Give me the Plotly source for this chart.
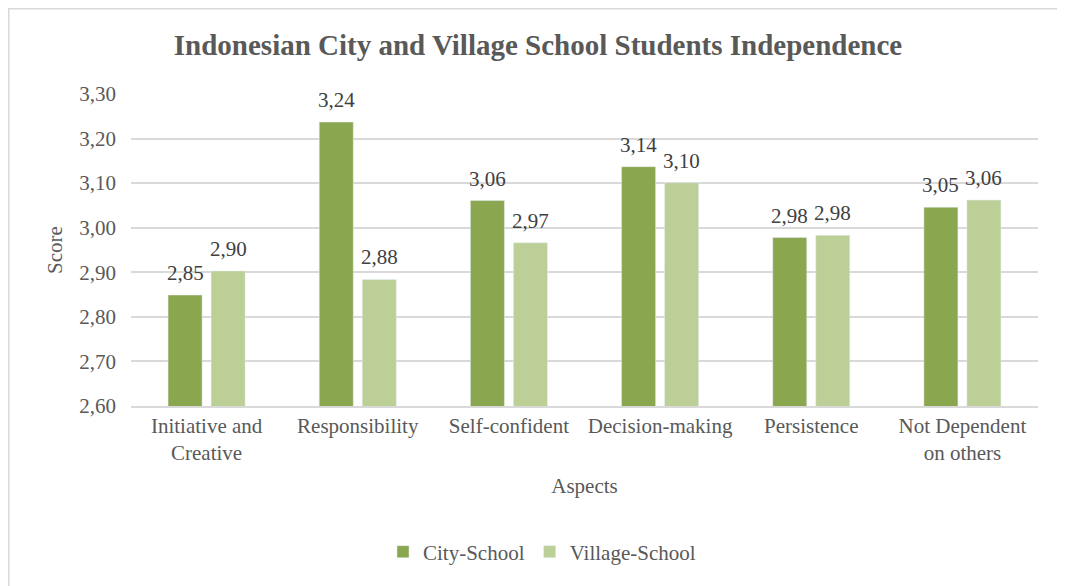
import plotly.graph_objects as go

categories = ["Initiative and<br>Creative", "Responsibility", "Self-confident",
              "Decision-making", "Persistence", "Not Dependent<br>on others"]
city_school = [2.849, 3.237, 3.061, 3.137, 2.978, 3.046]
village_school = [2.903, 2.884, 2.966, 3.101, 2.983, 3.062]
y_ticks = [2.6, 2.7, 2.8, 2.9, 3.0, 3.1, 3.2, 3.3]

FONT = "Liberation Serif"
W, H = 1057, 578
OFF = 8  # page body offset
BARGAP, GROUPGAP = 0.431, 0.209

fig = go.Figure()
fig.add_trace(go.Bar(name="City-School", x=categories, y=city_school,
                     marker=dict(color="#8AA64F")))
fig.add_trace(go.Bar(name="Village-School", x=categories, y=village_school,
                     marker=dict(color="#BBCF96")))

# data labels placed above each bar
pw = 1038 - 131
ph = 406 - 94
slot = pw / len(categories) * (1 - BARGAP) / 2
for series, sign in ((city_school, -1), (village_school, 1)):
    for cat, val in zip(categories, series):
        fig.add_annotation(x=cat, y=val, text=f"{val:.2f}".replace(".", ","),
                           showarrow=False, yanchor="bottom", xanchor="center",
                           xshift=sign * slot / 2, yshift=8,
                           font=dict(family=FONT, size=21, color="#404040"))

fig.update_layout(
    width=W, height=H,
    margin=dict(l=131-OFF, r=W-(1038-OFF), t=94-OFF, b=H-(406-OFF), autoexpand=False),
    paper_bgcolor="white", plot_bgcolor="white",
    separators=",.",
    barmode="group", bargap=BARGAP, bargroupgap=GROUPGAP,
    font=dict(family=FONT, size=21, color="#595959"),
    title=dict(text="<b>Indonesian City and Village School Students Independence</b>",
               x=(538-OFF)/W, xref="container", xanchor="center",
               y=1-(45-OFF)/H, yref="container", yanchor="middle",
               font=dict(family=FONT, size=29, color="#595959")),
    xaxis=dict(title=dict(text="Aspects", standoff=14, font=dict(size=21, color="#595959")),
               showline=True, linecolor="#d9d9d9", linewidth=1.5,
               ticks="", tickfont=dict(size=21, color="#595959"),
               showgrid=False),
    yaxis=dict(title=dict(text="Score", standoff=10, font=dict(size=21, color="#595959")),
               range=[2.6, 3.3], tickvals=y_ticks, tickformat=".2f",
               showgrid=True, gridcolor="#d9d9d9", gridwidth=1.5,
               zeroline=False, ticks="", ticklabelstandoff=14,
               tickfont=dict(size=21, color="#595959")),
    legend=dict(orientation="h", x=(542-OFF)/W, xref="container", xanchor="center",
                y=1-(552-OFF)/H, yref="container", yanchor="middle",
                font=dict(size=21, color="#595959"), itemwidth=30,
                traceorder="normal"),
    showlegend=True,
)

# Chart area border (Excel style)
fig.add_shape(type="rect", xref="paper", yref="paper",
              x0=(0.75-(131-OFF))/pw, x1=(W+20-(131-OFF))/pw,
              y0=((406-OFF)-(H+20))/ph, y1=((406-OFF)-0.75)/ph,
              line=dict(color="#d9d9d9", width=1.5), fillcolor="rgba(0,0,0,0)",
              layer="below")

fig.write_html("out.html")
